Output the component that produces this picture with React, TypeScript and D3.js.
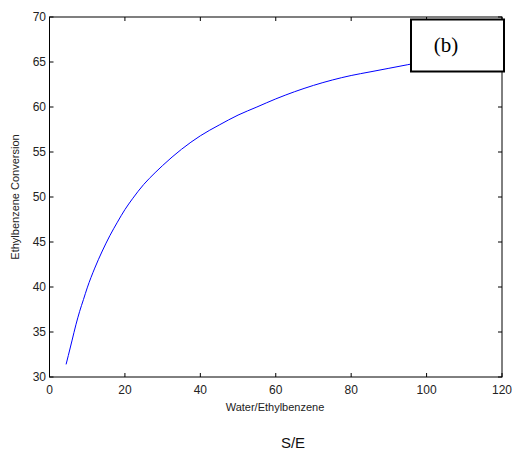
import React from "react";
import * as d3 from "d3";

const xValues = [4.4, 5, 6, 7, 8, 9, 10, 12, 14, 16, 18, 20, 22, 25, 28, 30, 35, 40, 45, 50, 55, 60, 65, 70, 75, 80, 85, 90, 95, 100, 110, 120];
const conversion = [31.4, 32.4, 34.1, 35.8, 37.3, 38.6, 39.9, 42.1, 44.0, 45.7, 47.2, 48.6, 49.8, 51.4, 52.7, 53.5, 55.3, 56.8, 58.0, 59.1, 60.0, 60.9, 61.7, 62.4, 63.0, 63.5, 63.9, 64.3, 64.7, 65.1, 65.8, 66.4];
const xTicks = [0, 20, 40, 60, 80, 100, 120];
const yTicks = [30, 35, 40, 45, 50, 55, 60, 65, 70];

const W = 513, H = 452;
const L = 49.5, R = 502, T = 17, B = 377;

export default function App() {
  const x = d3.scaleLinear().domain([0, 120]).range([L, R]);
  const y = d3.scaleLinear().domain([30, 70]).range([B, T]);
  const line = d3.line<number>().curve(d3.curveMonotoneX).x((_, i) => x(xValues[i])).y((d) => y(d));
  const font = "'Liberation Sans', Arial, sans-serif";
  return (
    <svg width={W} height={H} style={{ position: "absolute", left: 0, top: 0, background: "#fff" }}>
      <rect x={0} y={0} width={W} height={H} fill="#fff" />
      <path d={line(conversion) || ""} fill="none" stroke="#0000ff" strokeWidth={1} />
      <rect x={L} y={T} width={R - L} height={B - T} fill="none" stroke="#000" strokeWidth={1} />
      {xTicks.map((t) => (
        <g key={"x" + t}>
          <line x1={x(t)} x2={x(t)} y1={B} y2={B - 4} stroke="#000" />
          <line x1={x(t)} x2={x(t)} y1={T} y2={T + 4} stroke="#000" />
          <text x={x(t)} y={394} textAnchor="middle" fontFamily={font} fontSize={12} fill="#222">{t}</text>
        </g>
      ))}
      {yTicks.map((t) => (
        <g key={"y" + t}>
          <line x1={L} x2={L + 4} y1={y(t)} y2={y(t)} stroke="#000" />
          <line x1={R} x2={R - 4} y1={y(t)} y2={y(t)} stroke="#000" />
          <text x={46} y={y(t) + 4} textAnchor="end" fontFamily={font} fontSize={12} fill="#222">{t}</text>
        </g>
      ))}
      <text x={275} y={411} textAnchor="middle" fontFamily={font} fontSize={11} fill="#222">Water/Ethylbenzene</text>
      <text transform={`translate(19,${(T + B) / 2}) rotate(-90)`} textAnchor="middle" fontFamily={font} fontSize={11} fill="#222">Ethylbenzene Conversion</text>
      <text x={293} y={448} textAnchor="middle" fontFamily={font} fontSize={15} fill="#111">S/E</text>
      <rect x={411} y={19.5} width={93} height={52} fill="#fff" stroke="#000" strokeWidth={2} />
      <text x={446} y={52} textAnchor="middle" fontFamily="'Liberation Serif', 'DejaVu Serif', serif" fontSize={21} fill="#000">(b)</text>
    </svg>
  );
}
